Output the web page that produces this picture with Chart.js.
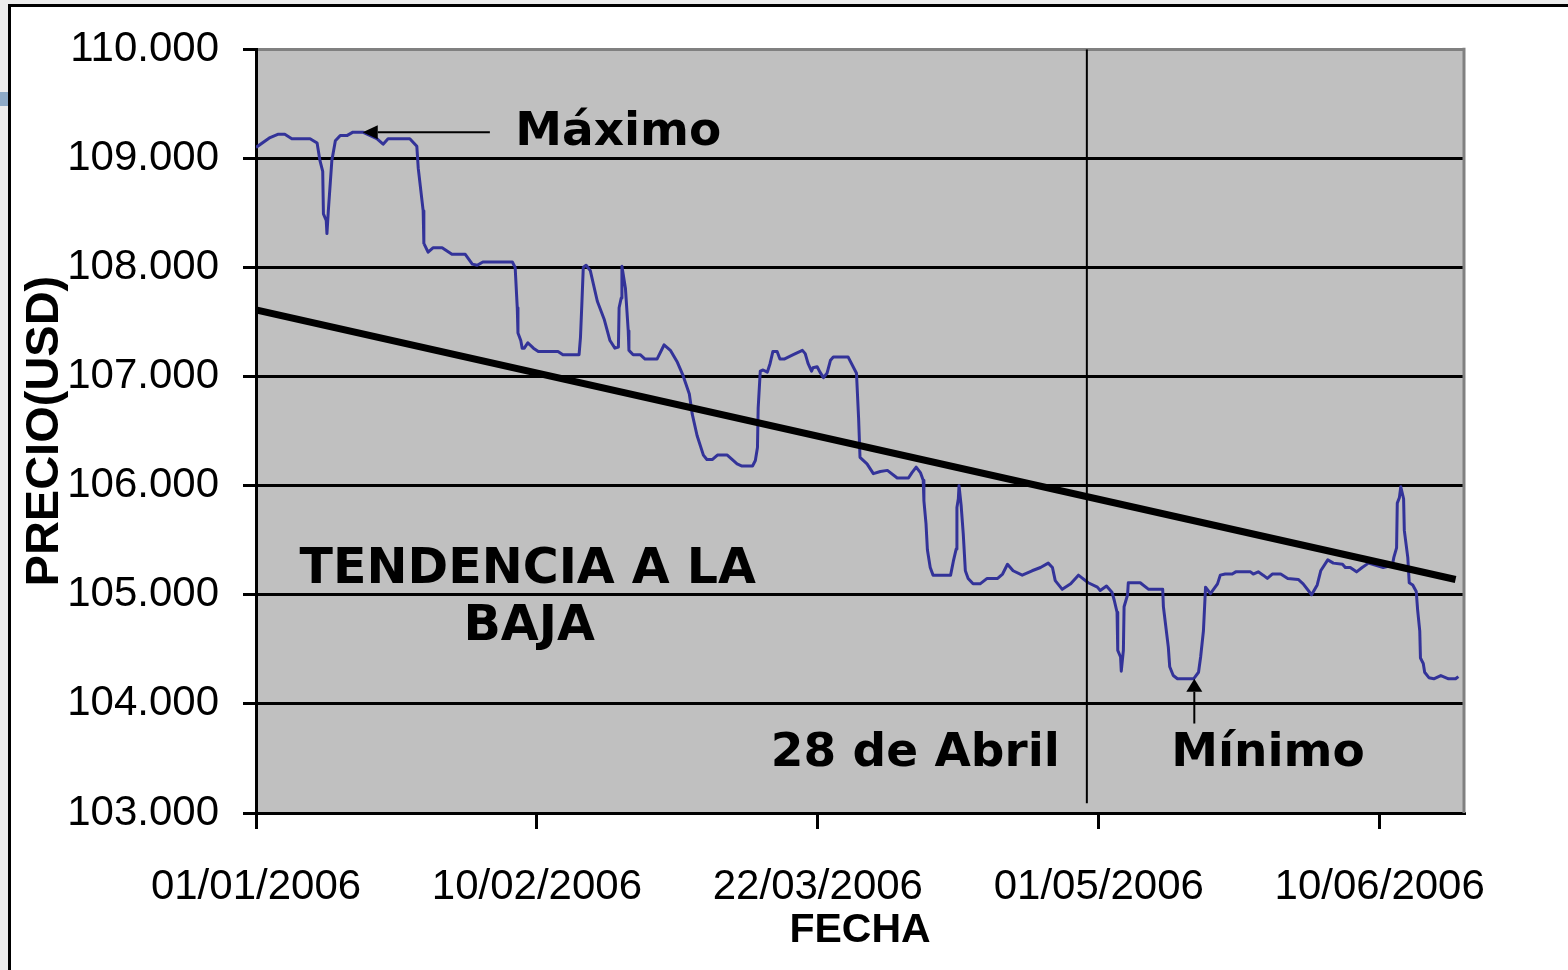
<!DOCTYPE html>
<html lang="es">
<head>
<meta charset="utf-8">
<title>Precio (USD) 2006 – tendencia a la baja</title>
<script src="https://cdn.jsdelivr.net/npm/chart.js@4.4.1/dist/chart.umd.min.js"></script>
<style>
  html, body { margin: 0; padding: 0; }
  body { width: 1568px; height: 970px; overflow: hidden; position: relative; background: #ececec; }
  #tab { position: absolute; left: 0; top: 92px; width: 9px; height: 14px; background: #8eaac7; }
  #sheet { position: absolute; left: 8px; top: 4px; width: 1620px; height: 1020px;
           border-left: 3px solid #000; border-top: 3px solid #000; background: #fff; }
  #chart { position: absolute; left: 0; top: 0; }
</style>
</head>
<body>
<div id="tab"></div>
<div id="sheet"></div>
<canvas id="chart" width="1568" height="970"></canvas>
<script>
// Days counted from 01/01/2006
const priceDays = [
  0, 2.0, 3.1, 4.1, 5.1, 7.7, 8.7, 9.1, 9.5, 9.6, 10.0, 10.1, 10.3, 10.8, 11.3, 12.0, 13.0, 13.8, 15.2,
  17.2, 18.1, 18.8, 21.9, 22.9, 23.1, 23.8, 23.9, 24.5, 25.2, 26.5, 27.9, 29.8, 30.8, 31.5, 32.3, 36.5,
  36.9, 37.2, 37.3, 37.7, 37.9, 38.2, 38.7, 39.5, 40.2, 43.0, 43.7, 46.0, 46.2, 46.4, 46.6, 47.0, 47.6,
  48.6, 49.6, 50.4, 51.1, 51.6, 51.7, 52.0, 52.1, 52.6, 53.0, 53.1, 53.7, 54.7, 55.4, 57.1, 57.8, 58.1,
  59.0, 60.0, 60.8, 61.7, 62.1, 62.8, 63.7, 64.2, 65.0, 65.7, 67.1, 68.5, 69.2, 70.7, 71.1, 71.4, 71.5,
  71.8, 72.2, 72.8, 73.2, 73.6, 74.2, 74.6, 75.2, 76.5, 77.8, 78.2, 78.6, 79.1, 79.3, 79.9, 80.3, 80.8,
  81.3, 81.8, 82.2, 84.3, 85.5, 85.8, 86.0, 87.0, 87.9, 88.9, 89.9, 91.3, 92.9, 93.4, 94.0, 94.6, 95.0,
  95.1, 95.4, 95.6, 96.0, 96.4, 98.9, 99.3, 99.7, 99.8, 100.0, 100.1, 100.4, 100.7, 101.0, 101.4, 102.1,
  103.1, 104.1, 105.6, 106.3, 107.0, 107.8, 109.1, 110.5, 111.7, 112.8, 113.4, 113.8, 114.8, 116.0, 117.1,
  118.5, 119.8, 120.2, 121.1, 121.9, 122.2, 122.6, 122.7, 123.1, 123.2, 123.5, 123.6, 124.1, 124.2, 124.8,
  125.9, 127.1, 129.1, 129.2, 129.9, 130.1, 130.6, 131.2, 133.5, 134.2, 134.5, 134.9, 135.2, 135.9, 136.9,
  137.3, 138.0, 139.0, 139.5, 141.6, 142.0, 142.7, 143.4, 144.0, 144.7, 145.9, 146.9, 148.4, 149.1, 150.3,
  151.1, 151.6, 152.6, 153.4, 154.7, 155.1, 155.8, 156.7, 157.5, 158.4, 160.5, 161.8, 162.0, 162.4, 162.5,
  162.8, 163.0, 163.4, 163.5, 164.0, 164.2, 164.7, 165.2, 165.4, 165.7, 165.8, 166.2, 166.4, 167.0, 167.7,
  168.7, 169.8, 170.8, 171.2
];
const prices = [
  109.10, 109.19, 109.22, 109.22, 109.18, 109.18, 109.14, 108.98, 108.88, 108.49, 108.43, 108.31, 108.52, 108.98, 109.16, 109.21, 109.21, 109.24, 109.24,
  109.18, 109.13, 109.18, 109.18, 109.11, 108.91, 108.52, 108.22, 108.14, 108.18, 108.18, 108.12, 108.12, 108.03, 108.02, 108.05, 108.05,
  108.00, 107.63, 107.40, 107.33, 107.26, 107.26, 107.31, 107.26, 107.23, 107.23, 107.20, 107.20, 107.36, 107.67, 108.00, 108.02, 107.97,
  107.69, 107.52, 107.33, 107.26, 107.27, 107.63, 107.72, 108.01, 107.81, 107.42, 107.24, 107.20, 107.20, 107.16, 107.16, 107.25, 107.29,
  107.24, 107.13, 107.01, 106.84, 106.66, 106.46, 106.28, 106.24, 106.24, 106.28, 106.28, 106.20, 106.18, 106.18, 106.23, 106.35, 106.71,
  107.05, 107.06, 107.04, 107.12, 107.23, 107.23, 107.16, 107.16, 107.20, 107.24, 107.21, 107.12, 107.05, 107.08, 107.09, 107.04, 106.99,
  107.03, 107.15, 107.18, 107.18, 107.03, 106.62, 106.26, 106.20, 106.11, 106.13, 106.14, 106.07, 106.07, 106.12, 106.17, 106.12, 106.05,
  105.86, 105.65, 105.41, 105.25, 105.18, 105.18, 105.31, 105.42, 105.80, 105.88, 106.00, 105.82, 105.56, 105.22, 105.15, 105.10,
  105.10, 105.15, 105.15, 105.19, 105.28, 105.22, 105.18, 105.22, 105.25, 105.29, 105.25, 105.13, 105.05, 105.10, 105.18,
  105.11, 105.07, 105.04, 105.08, 105.02, 104.95, 104.84, 104.49, 104.43, 104.30, 104.49, 104.89, 105.00, 105.11, 105.11,
  105.11, 105.05, 105.05, 104.89, 104.52, 104.34, 104.26, 104.23, 104.23, 104.29, 104.43, 104.67, 105.07, 105.01, 105.10,
  105.18, 105.19, 105.19, 105.21, 105.21, 105.19, 105.21, 105.18, 105.15, 105.19, 105.19, 105.15, 105.14, 105.10, 105.00,
  105.09, 105.22, 105.32, 105.29, 105.28, 105.25, 105.25, 105.21, 105.25, 105.29, 105.25, 105.27, 105.34, 105.43, 105.84,
  105.89, 105.99, 105.88, 105.59, 105.34, 105.11, 105.09, 105.03, 104.86, 104.67, 104.42, 104.37, 104.29, 104.24, 104.23,
  104.26, 104.23, 104.23, 104.25
];

// Straight trend line
const trendDays = [0, 170.8];
const trendPrices = [107.61, 105.14];

// Marker for 28 de Abril
const markerDays = [118.3, 118.3];
const markerPrices = [110, 103.09];

// Axis ticks
const xTickDays = [0, 40, 80, 120, 160];
const xTickLabels = ['01/01/2006', '10/02/2006', '22/03/2006', '01/05/2006', '10/06/2006'];
const yTickValues = [103, 104, 105, 106, 107, 108, 109, 110];
const yTickLabels = ['103.000', '104.000', '105.000', '106.000', '107.000', '108.000', '109.000', '110.000'];

const toPoints = (xs, ys) => xs.map((x, i) => ({ x, y: ys[i] }));

const maxPrice = Math.max(...prices);
const minPrice = Math.min(...prices);

const NOTE_FAMILY = '"DejaVu Sans", Verdana, sans-serif';
const TICK_FAMILY = '"Liberation Sans", Arial, sans-serif';

// Plot background, frame and the written notes with arrows
const notesPlugin = {
  id: 'notes',
  beforeDraw(chart) {
    const { ctx, chartArea: a } = chart;
    ctx.save();
    ctx.fillStyle = '#c0c0c0';
    ctx.fillRect(a.left, a.top, a.right - a.left, a.bottom - a.top);
    ctx.restore();
  },
  beforeDatasetsDraw(chart) {
    const { ctx, chartArea: a } = chart;
    ctx.save();
    ctx.strokeStyle = '#808080';
    ctx.lineWidth = 3;
    ctx.beginPath();
    ctx.moveTo(a.right, a.top - 1.5);
    ctx.lineTo(a.right, a.bottom);
    ctx.stroke();
    ctx.restore();
  },
  afterDatasetsDraw(chart) {
    const { ctx, scales: { x, y } } = chart;
    const px = d => x.getPixelForValue(d);
    const py = v => y.getPixelForValue(v);

    const arrow = (x0, y0, x1, y1, headLen, headHalf) => {
      const ang = Math.atan2(y1 - y0, x1 - x0);
      const bx = x1 - Math.cos(ang) * headLen;
      const by = y1 - Math.sin(ang) * headLen;
      ctx.beginPath();
      ctx.moveTo(x0, y0);
      ctx.lineTo(bx, by);
      ctx.stroke();
      ctx.beginPath();
      ctx.moveTo(x1, y1);
      ctx.lineTo(bx - Math.sin(ang) * headHalf, by + Math.cos(ang) * headHalf);
      ctx.lineTo(bx + Math.sin(ang) * headHalf, by - Math.cos(ang) * headHalf);
      ctx.closePath();
      ctx.fill();
    };

    ctx.save();
    ctx.strokeStyle = '#000';
    ctx.fillStyle = '#000';
    ctx.lineWidth = 2;

    // Máximo arrow, pointing left at the highest price
    arrow(px(33.3), py(maxPrice), px(15.2), py(maxPrice), 15, 7);
    // Mínimo arrow, pointing up at the lowest price
    arrow(px(133.6), py(103.82), px(133.6), py(minPrice), 13, 8);

    ctx.textBaseline = 'alphabetic';
    ctx.textAlign = 'left';
    ctx.font = 'bold 47px ' + NOTE_FAMILY;
    ctx.fillText('Máximo', px(36.9), py(109.12));
    ctx.fillText('28 de Abril', px(73.3), py(103.43));
    ctx.fillText('Mínimo', px(130.3), py(103.43));
    ctx.textAlign = 'center';
    ctx.font = 'bold 49px ' + NOTE_FAMILY;
    ctx.fillText('TENDENCIA A LA', px(38.7), py(105.105));
    ctx.fillText('BAJA', px(38.9), py(104.59));
    ctx.restore();
  }
};

new Chart(document.getElementById('chart'), {
  type: 'line',
  data: {
    datasets: [
      {
        label: '28 de Abril',
        data: toPoints(markerDays, markerPrices),
        borderColor: '#000',
        borderWidth: 2,
        pointRadius: 0,
        order: 0
      },
      {
        label: 'Tendencia',
        data: toPoints(trendDays, trendPrices),
        borderColor: '#000',
        borderWidth: 7,
        pointRadius: 0,
        order: 1
      },
      {
        label: 'Precio',
        data: toPoints(priceDays, prices),
        borderColor: '#333399',
        borderWidth: 3,
        borderJoinStyle: 'round',
        pointRadius: 0,
        tension: 0,
        order: 2
      }
    ]
  },
  options: {
    responsive: false,
    animation: false,
    events: [],
    layout: { padding: { left: 0, right: 104, top: 48, bottom: 0 } },
    plugins: {
      legend: { display: false },
      tooltip: { enabled: false },
      title: { display: false }
    },
    scales: {
      x: {
        type: 'linear',
        min: 0,
        max: 172,
        afterBuildTicks: s => { s.ticks = xTickDays.map(v => ({ value: v })); },
        afterFit: s => { s.height = 157; },
        ticks: {
          autoSkip: false,
          maxRotation: 0,
          padding: 33,
          color: '#000',
          font: { family: TICK_FAMILY, size: 42 },
          callback: (v, i) => xTickLabels[i]
        },
        grid: {
          display: true,
          drawOnChartArea: false,
          drawTicks: true,
          tickLength: 16,
          color: '#000',
          lineWidth: 3
        },
        border: { display: true, color: '#000', width: 3 },
        title: {
          display: true,
          text: 'FECHA',
          color: '#000',
          font: { family: TICK_FAMILY, size: 41, weight: 'bold' },
          padding: { top: 0, bottom: 15 }
        }
      },
      y: {
        type: 'linear',
        min: 103,
        max: 110,
        afterBuildTicks: s => { s.ticks = yTickValues.map(v => ({ value: v })); },
        afterFit: s => { s.width = 256; },
        ticks: {
          padding: 24,
          color: '#000',
          font: { family: TICK_FAMILY, size: 42 },
          callback: (v, i) => yTickLabels[i]
        },
        grid: {
          color: ctx => (ctx.tick && ctx.tick.value === 110 ? '#808080' : '#000'),
          tickColor: '#000',
          lineWidth: 3,
          tickWidth: 3,
          tickLength: 13,
          drawTicks: true
        },
        border: { display: true, color: '#000', width: 3 },
        title: {
          display: true,
          text: 'PRECIO(USD)',
          color: '#000',
          font: { family: TICK_FAMILY, size: 47, weight: 'bold' },
          padding: { top: 17, bottom: 0 }
        }
      }
    }
  },
  plugins: [notesPlugin]
});
</script>
</body>
</html>
